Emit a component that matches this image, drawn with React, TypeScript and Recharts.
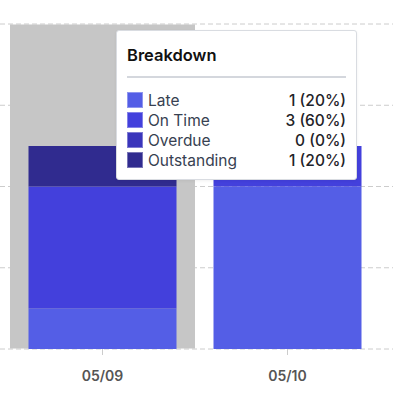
import { BarChart, Bar, XAxis, YAxis, CartesianGrid, Tooltip } from 'recharts';

// Dates shown along the bottom
const dates = ['05/09', '05/10'];

// Counts per status, one entry per date
const late = [1, 4];
const onTime = [3, 1];
const overdue = [0, 0];
const outstanding = [1, 0];

const yTicks = [0, 2, 4, 6, 8];

const series = [
  { key: 'late', name: 'Late', color: '#545ee6' },
  { key: 'onTime', name: 'On Time', color: '#4340dc' },
  { key: 'overdue', name: 'Overdue', color: '#3a35bb' },
  { key: 'outstanding', name: 'Outstanding', color: '#302b8f' },
];

const data = dates.map((date, i) => ({
  date,
  late: late[i],
  onTime: onTime[i],
  overdue: overdue[i],
  outstanding: outstanding[i],
}));

const FONT = 'Inter, "Noto Sans", sans-serif';

// vertical grid only at the category centres, not at the plot edges
const centreLines = ({ xAxis }: any) => {
  try {
    const scale = xAxis.scale;
    const bw = typeof scale.bandwidth === 'function' ? scale.bandwidth() : 0;
    return dates.map((d) => scale(d) + bw / 2).filter((v) => Number.isFinite(v));
  } catch (e) {
    return [];
  }
};

// Tooltip card with a swatch, label and "count (percent)" per status
const BreakdownTooltip = ({ payload }: any) => {
  if (!payload || payload.length === 0) return null;
  const row = payload[0].payload;
  const total = series.reduce((sum, s) => sum + row[s.key], 0);

  return (
    <div
      style={{
        width: 219,
        background: '#fff',
        border: '1px solid #d9dce1',
        borderRadius: 3,
        padding: '12px 10px 9px 10px',
        fontFamily: FONT,
        boxShadow: '0 1px 3px rgba(0,0,0,0.06)',
      }}
    >
      <div style={{ fontSize: 16.5, fontWeight: 600, color: '#111', lineHeight: '20px', marginTop: 2 }}>
        Breakdown
      </div>
      <div style={{ height: 2, background: '#d4d7dd', marginTop: 11, marginBottom: 12 }} />
      {series.map((s) => {
        const v = row[s.key];
        const pct = total ? Math.round((v / total) * 100) : 0;
        return (
          <div key={s.key} style={{ display: 'flex', alignItems: 'center', height: 20 }}>
            <span
              style={{
                width: 14,
                height: 14,
                background: s.color,
                border: '1px solid rgba(255,255,255,0.35)',
                boxSizing: 'content-box',
                marginRight: 5,
              }}
            />
            <span style={{ fontSize: 15.5, color: '#374151', flex: 1 }}>{s.name}</span>
            <span style={{ fontSize: 15.5, color: '#1f2328', fontWeight: 500 }}>
              {v} ({pct}%)
            </span>
          </div>
        );
      })}
    </div>
  );
};

const App = () => (
  <div>
    <style>{'body{margin:0}'}</style>
    <BarChart width={393} height={408} data={data} margin={{ top: 24, right: 0, left: 0, bottom: 0 }}>
      <CartesianGrid stroke="#cccccc" strokeDasharray="5 3" verticalCoordinatesGenerator={centreLines} />
      <XAxis
        dataKey="date"
        height={59}
        padding={{ left: 10, right: 13 }}
        axisLine={false}
        tickLine={{ stroke: '#cccccc' }}
        tickSize={6}
        tickMargin={16}
        tick={{ fontSize: 14, fontWeight: 600, fill: '#555', fontFamily: FONT }}
      />
      <YAxis hide domain={[0, 8]} ticks={yTicks} />
      <Tooltip
        defaultIndex={0}
        active
        position={{ x: 116, y: 30 }}
        cursor={{ fill: '#c6c6c6' }}
        isAnimationActive={false}
        content={<BreakdownTooltip />}
      />
      {series.map((s) => (
        <Bar key={s.key} dataKey={s.key} name={s.name} stackId="a" fill={s.color} isAnimationActive={false} />
      ))}
    </BarChart>
  </div>
);

export default App;
